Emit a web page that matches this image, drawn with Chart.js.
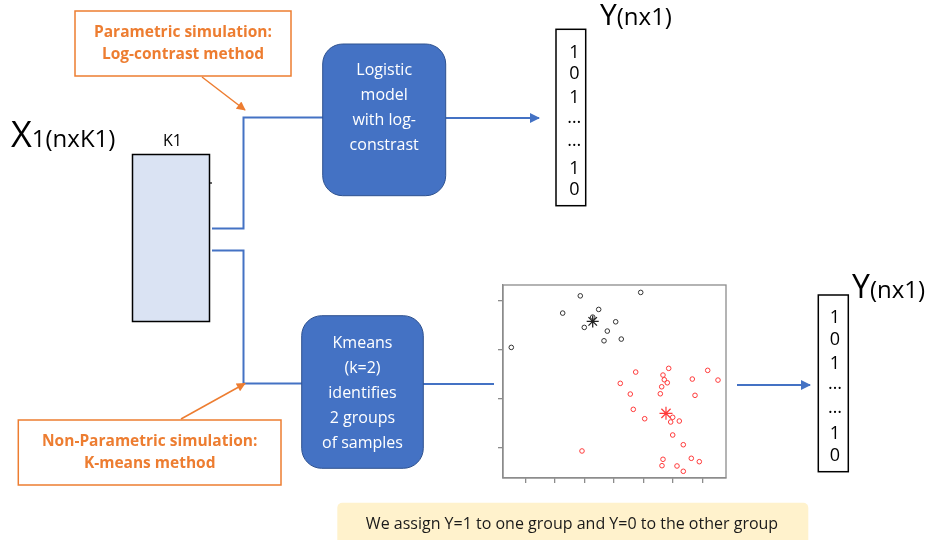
<!DOCTYPE html>
<html>
<head>
<meta charset="utf-8">
<script src="https://cdn.jsdelivr.net/npm/chart.js@4"></script>
<style>
  html, body { margin: 0; padding: 0; background: #fff; }
  #wrap { position: relative; width: 936px; height: 540px; overflow: hidden; }
  #plot { position: absolute; left: 0; top: 0; }
  #diagram { position: absolute; left: 0; top: 0; pointer-events: none; font-family: 'Open Sans', sans-serif; }
</style>
</head>
<body>
<div id="wrap">
  <canvas id="plot" width="936" height="540"></canvas>
  <svg id="diagram" width="936" height="540" viewBox="0 0 936 540">
    <defs>
      <marker id="arrOrange" viewBox="0 0 10 10" refX="9" refY="5" markerWidth="11" markerHeight="9" markerUnits="userSpaceOnUse" orient="auto">
        <path d="M0,0 L10,5 L0,10 z" fill="#ED7D31"/>
      </marker>
      <marker id="arrBlue" viewBox="0 0 10 10" refX="9" refY="5" markerWidth="11" markerHeight="10" markerUnits="userSpaceOnUse" orient="auto">
        <path d="M0,0 L10,5 L0,10 z" fill="#4472C4"/>
      </marker>
    </defs>

    <!-- parametric note -->
    <rect x="75" y="11" width="216" height="65" fill="#fff" stroke="#ED7D31" stroke-width="1.5"/>
    <text x="183" y="37" text-anchor="middle" font-size="15.5" font-weight="bold" fill="#ED7D31">Parametric simulation:</text>
    <text x="183" y="59" text-anchor="middle" font-size="15.5" font-weight="bold" fill="#ED7D31">Log-contrast method</text>
    <line x1="202" y1="77" x2="245" y2="110" stroke="#ED7D31" stroke-width="1.5" marker-end="url(#arrOrange)"/>

    <!-- X matrix -->
    <text x="11" y="147" fill="#000"><tspan font-size="36">X</tspan><tspan font-size="24">1(nxK1)</tspan></text>
    <text x="172.5" y="146" text-anchor="middle" font-size="16" fill="#000">K1</text>
    <rect x="132.5" y="154.5" width="77" height="167" fill="#DAE3F3" stroke="#000" stroke-width="1.5"/>
    <line x1="209" y1="183" x2="212" y2="183" stroke="#000" stroke-width="1.2"/>

    <!-- blue connectors -->
    <polyline points="212,228.5 243.5,228.5 243.5,117.5 323,117.5" fill="none" stroke="#4472C4" stroke-width="2"/>
    <line x1="446" y1="118" x2="539" y2="118" stroke="#4472C4" stroke-width="2" marker-end="url(#arrBlue)"/>
    <polyline points="212,250.5 243.5,250.5 243.5,383.5 302,383.5" fill="none" stroke="#4472C4" stroke-width="2"/>
    <line x1="423" y1="384" x2="494" y2="384" stroke="#4472C4" stroke-width="2"/>
    <line x1="737" y1="385" x2="810" y2="385" stroke="#4472C4" stroke-width="2" marker-end="url(#arrBlue)"/>

    <!-- logistic model box -->
    <rect x="322.7" y="44" width="123" height="151.7" rx="20" fill="#4472C4" stroke="#2F528F" stroke-width="1"/>
    <g font-size="16" fill="#fff" text-anchor="middle">
      <text x="384.2" y="75">Logistic</text>
      <text x="384.2" y="100">model</text>
      <text x="384.2" y="125">with log-</text>
      <text x="384.2" y="150">constrast</text>
    </g>

    <!-- kmeans box -->
    <rect x="301.7" y="315.7" width="121.6" height="152.6" rx="20" fill="#4472C4" stroke="#2F528F" stroke-width="1"/>
    <g font-size="16" fill="#fff" text-anchor="middle">
      <text x="362.5" y="348">Kmeans</text>
      <text x="362.5" y="373">(k=2)</text>
      <text x="362.5" y="397.5">identifies</text>
      <text x="362.5" y="422.5">2 groups</text>
      <text x="362.5" y="447.5">of samples</text>
    </g>

    <!-- top Y vector -->
    <text x="600" y="25" fill="#000"><tspan font-size="30">Y</tspan><tspan font-size="24">(nx1)</tspan></text>
    <rect x="556" y="29.3" width="29.7" height="176.4" fill="#fff" stroke="#000" stroke-width="1.5"/>
    <g font-size="18" fill="#000" text-anchor="middle">
      <text x="574.3" y="57.7">1</text>
      <text x="574.3" y="79">0</text>
      <text x="574.3" y="103.3">1</text>
      <text x="574.3" y="123">…</text>
      <text x="574.3" y="146">…</text>
      <text x="574.3" y="174.3">1</text>
      <text x="574.3" y="195">0</text>
    </g>

    <!-- bottom Y vector -->
    <text x="852" y="298.3" fill="#000"><tspan font-size="32">Y</tspan><tspan font-size="24">(nx1)</tspan></text>
    <rect x="818.3" y="295" width="30" height="176.7" fill="#fff" stroke="#000" stroke-width="1.5"/>
    <g font-size="18" fill="#000" text-anchor="middle">
      <text x="835" y="322.7">1</text>
      <text x="835" y="345">0</text>
      <text x="835" y="368.7">1</text>
      <text x="835" y="388.5">…</text>
      <text x="835" y="412.5">…</text>
      <text x="835" y="439.3">1</text>
      <text x="835" y="461">0</text>
    </g>

    <!-- non-parametric note -->
    <rect x="18.3" y="420" width="262.7" height="65" fill="#fff" stroke="#ED7D31" stroke-width="1.5"/>
    <text x="149.7" y="445.5" text-anchor="middle" font-size="15.5" font-weight="bold" fill="#ED7D31">Non-Parametric simulation:</text>
    <text x="149.7" y="468" text-anchor="middle" font-size="15.5" font-weight="bold" fill="#ED7D31">K-means method</text>
    <line x1="181" y1="419" x2="245" y2="383.5" stroke="#ED7D31" stroke-width="1.5" marker-end="url(#arrOrange)"/>

    <!-- assignment note -->
    <rect x="337.3" y="502.7" width="471" height="50" rx="5" fill="#FFF2CC"/>
    <text x="572" y="529" text-anchor="middle" font-size="16" fill="#1a1a1a">We assign Y=1 to one group and Y=0 to the other group</text>
  </svg>
</div>

<script>
// k-means scatter, values (unitless axes)
const xTicks = [1, 2, 3, 4, 5, 6, 7];
const yTicks = [1, 2, 3, 4];

const blackX = [2.855, 4.908, 2.257, 3.480, 3.277, 4.058, 2.991, 3.773, 3.661, 4.248, 0.511];
const blackY = [4.108, 4.178, 3.755, 3.830, 3.673, 3.577, 3.462, 3.387, 3.188, 3.223, 3.053];

const redX = [4.738, 5.859, 5.665, 5.710, 5.811, 5.621, 5.574, 4.214, 4.554, 7.184, 6.661, 7.534, 6.753,
              4.656, 5.043, 5.995, 5.927, 6.219, 5.995, 6.355, 2.913, 5.665, 5.631, 6.627, 6.899, 6.141, 6.355];
const redY = [2.548, 2.624, 2.487, 2.391, 2.329, 2.247, 2.104, 2.317, 2.098, 2.583, 2.405, 2.384, 2.072,
              1.785, 1.593, 1.622, 1.526, 1.546, 1.260, 1.061, 0.933, 0.763, 0.632, 0.783, 0.714, 0.626, 0.517];

const centerBlack = [3.277, 3.585];
const centerRed = [5.767, 1.703];

const toPoints = (xs, ys) => xs.map((x, i) => ({ x: x, y: ys[i] }));

const frame = {
    id: 'frame',
    afterDraw(chart) {
        const a = chart.chartArea;
        const ctx = chart.ctx;
        ctx.save();
        ctx.strokeStyle = '#8c8c8c';
        ctx.lineWidth = 1.3;
        ctx.strokeRect(a.left, a.top, a.right - a.left, a.bottom - a.top);
        ctx.restore();
    }
};

new Chart(document.getElementById('plot'), {
    type: 'scatter',
    data: {
        datasets: [
            { data: toPoints(blackX, blackY), pointStyle: 'circle', pointRadius: 2.3, borderWidth: 1,
              borderColor: '#333', backgroundColor: 'transparent' },
            { data: toPoints(redX, redY), pointStyle: 'circle', pointRadius: 2.3, borderWidth: 1,
              borderColor: '#ff3b3b', backgroundColor: 'transparent' },
            { data: [{ x: centerBlack[0], y: centerBlack[1] }], pointStyle: 'star', pointRadius: 6, borderWidth: 1.3,
              borderColor: '#222' },
            { data: [{ x: centerRed[0], y: centerRed[1] }], pointStyle: 'star', pointRadius: 6.5, borderWidth: 1.2,
              borderColor: '#ff3b3b' }
        ]
    },
    options: {
        responsive: false,
        animation: false,
        devicePixelRatio: 1,
        layout: { padding: { left: 497, top: 285, right: 210, bottom: 56 } },
        plugins: { legend: { display: false }, tooltip: { enabled: false } },
        scales: {
            x: {
                type: 'linear', min: 0.229, max: 7.806,
                afterBuildTicks: s => { s.ticks = xTicks.map(v => ({ value: v })); },
                afterFit: s => { s.height = 6; },
                ticks: { display: false },
                grid: { drawOnChartArea: false, drawTicks: true, tickLength: 5, color: '#8c8c8c', lineWidth: 1.3 },
                border: { display: true, color: '#8c8c8c', width: 1.3 }
            },
            y: {
                type: 'linear', min: 0.38, max: 4.33,
                afterBuildTicks: s => { s.ticks = yTicks.map(v => ({ value: v })); },
                afterFit: s => { s.width = 6; },
                ticks: { display: false },
                grid: { drawOnChartArea: false, drawTicks: true, tickLength: 5, color: '#8c8c8c', lineWidth: 1.3 },
                border: { display: true, color: '#8c8c8c', width: 1.3 }
            }
        }
    },
    plugins: [frame]
});
</script>
</body>
</html>
